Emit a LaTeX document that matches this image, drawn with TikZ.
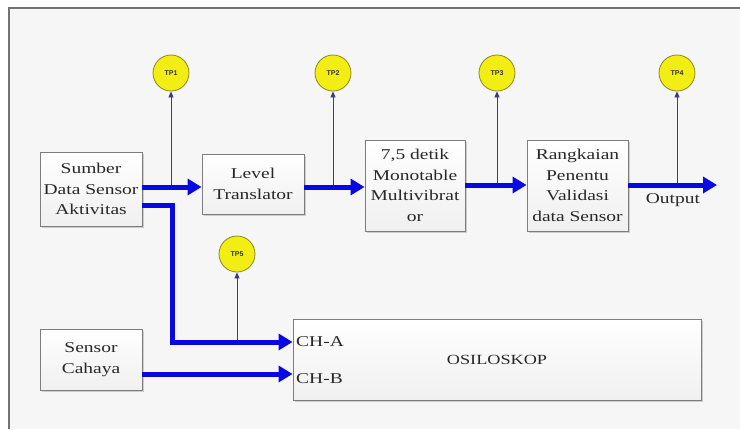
\documentclass[tikz,border=0pt]{standalone}
\usepackage{fontspec}
\setmainfont{Liberation Serif}[FakeStretch=1.3]
\newfontfamily\tpfont{Liberation Sans}
\usetikzlibrary{arrows.meta,shadows}
\definecolor{thickblue}{RGB}{8,8,228}
\definecolor{thinline}{RGB}{60,60,130}
\definecolor{tpyellow}{RGB}{242,238,20}
\definecolor{tpborder}{RGB}{140,135,30}
\definecolor{boxborder}{RGB}{125,125,125}
\definecolor{bgfill}{RGB}{246,246,246}
\definecolor{txt}{RGB}{40,40,40}
\tikzset{
  blockbox/.style={draw=boxborder, line width=0.9pt, top color=white, bottom color=black!6,
    align=center, inner sep=1pt, text=txt,
    font=\fontsize{15}{20.5}\selectfont,
    drop shadow={shadow xshift=1.5pt, shadow yshift=-1.5pt, fill=black!35, opacity=0.5}},
  tpcircle/.style={circle, draw=tpborder, fill=tpyellow, line width=0.8pt,
    minimum size=36pt, inner sep=0pt, text=black!80, font=\tpfont\bfseries\fontsize{7}{8}\selectfont},
  thickarrow/.style={draw=thickblue, line width=5pt, line join=miter,
    -{Triangle[length=14pt,width=16pt]}},
  tpline/.style={draw=thinline, line width=0.8pt, -{Triangle[length=6pt,width=5pt]}},
  labeltext/.style={text=txt, inner sep=0pt, font=\fontsize{15}{18}\selectfont}
}
\begin{document}
\begin{tikzpicture}[x=1pt,y=-1pt]
\useasboundingbox (0,0) rectangle (740,429);
\fill[white] (0,0) rectangle (740,429);
\fill[bgfill] (9,8) rectangle (740,429);
\draw[black!55, line width=1.3pt] (9,429) -- (9,8) -- (740,8);

% blocks
\node[blockbox, minimum width=102pt, minimum height=74pt] (sumber) at (91,189) {Sumber\\Data Sensor\\Aktivitas};
\node[blockbox, minimum width=102pt, minimum height=60pt] (level) at (253,184) {Level\\Translator};
\node[blockbox, minimum width=100pt, minimum height=91pt] (mono) at (415,185.5) {7,5 detik\\Monotable\\Multivibrat\\or};
\node[blockbox, minimum width=101pt, minimum height=91pt] (rangk) at (577.5,185.5) {Rangkaian\\Penentu\\Validasi\\data Sensor};
\node[blockbox, minimum width=102pt, minimum height=61pt] (sensor) at (91,359.5) {Sensor\\Cahaya};
\node[blockbox, minimum width=408pt, minimum height=81pt, font=\fontsize{14}{17}\selectfont] (osilo) at (497,359.5) {OSILOSKOP};
\node[labeltext, anchor=west] (cha) at (296,342) {CH-A};
\node[labeltext, anchor=west] (chb) at (296,379) {CH-B};
\node[labeltext] (outtxt) at (673,200) {Output};

% test points
\node[tpcircle] (tp1) at (171,73) {TP1};
\node[tpcircle] (tp2) at (333,73) {TP2};
\node[tpcircle] (tp3) at (497,73) {TP3};
\node[tpcircle] (tp4) at (677,73) {TP4};
\node[tpcircle] (tp5) at (237,254) {TP5};

% helper coordinates
\coordinate (rowA) at (0,187);
\coordinate (rowB) at (0,185);
\coordinate (rowC) at (0,205);
\coordinate (bend) at (172,342);
\coordinate (rowD) at (0,374);
\coordinate (outEnd) at (717,185);

% thin test point lines
\draw[tpline] (tp1 |- rowA) -- (tp1.south);
\draw[tpline] (tp2 |- rowA) -- (tp2.south);
\draw[tpline] (tp3 |- rowB) -- (tp3.south);
\draw[tpline] (tp4 |- rowB) -- (tp4.south);
\draw[tpline] (tp5 |- bend) -- (tp5.south);

% thick signal arrows
\draw[thickarrow] (sumber.east |- rowA) -- (level.west |- rowA);
\draw[thickarrow] (level.east |- rowA) -- (mono.west |- rowA);
\draw[thickarrow] (mono.east |- rowB) -- (rangk.west |- rowB);
\draw[thickarrow] (rangk.east |- rowB) -- (outEnd);
\draw[thickarrow] (sumber.east |- rowC) -| (bend) -- (osilo.west |- bend);
\draw[thickarrow] (sensor.east |- rowD) -- (osilo.west |- rowD);
\end{tikzpicture}
\end{document}
